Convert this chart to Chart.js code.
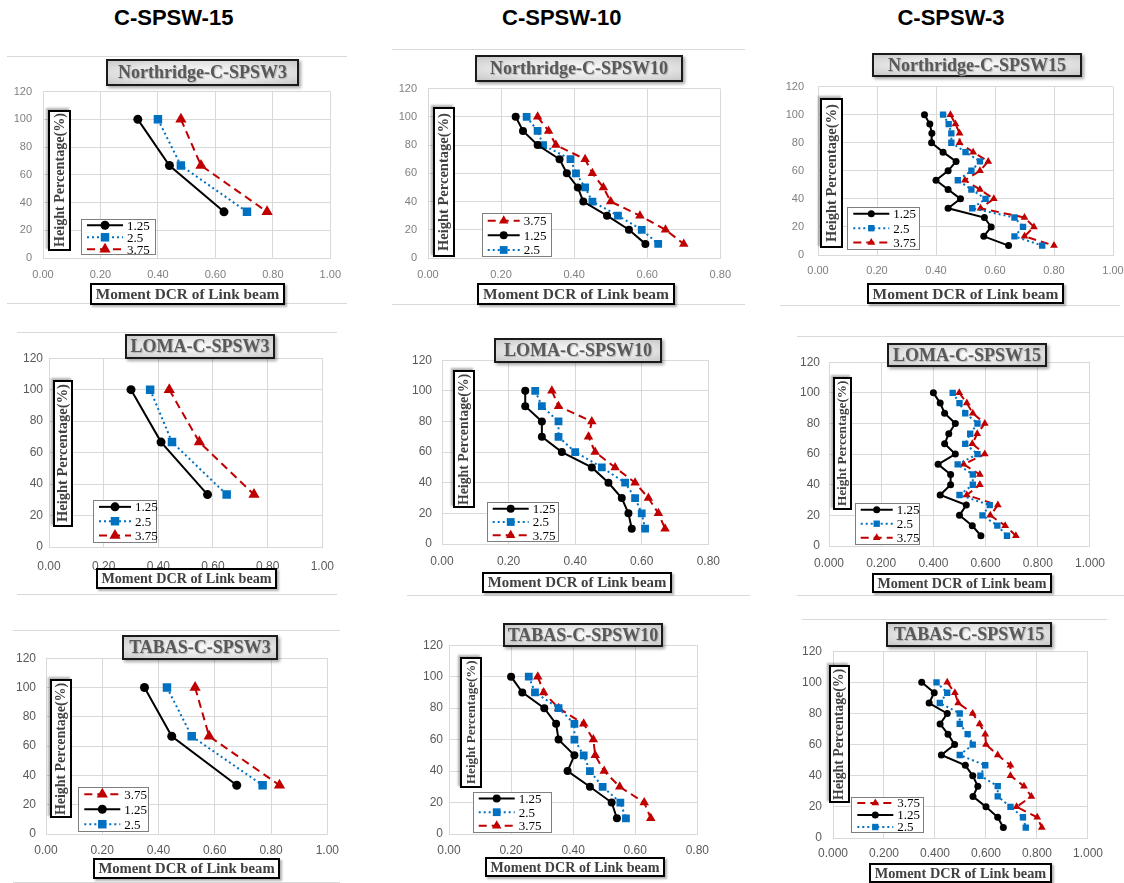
<!DOCTYPE html>
<html>
<head>
<meta charset="utf-8">
<script src="https://cdn.jsdelivr.net/npm/chart.js@4.4.1/dist/chart.umd.min.js"></script>
<style>
  body { margin: 0; background: #fff; }
  #page { position: relative; width: 1124px; height: 883px; overflow: hidden; background: #fff; }
  .abs { position: absolute; }
  .hdr { font: bold 22px 'Liberation Sans', Arial, sans-serif; color: #000; transform: translateX(-50%); white-space: nowrap; }
  .ttl { box-sizing: border-box; border: 2px solid #1a1a1a; box-shadow: 2px 2px 3px rgba(0,0,0,0.35);
         background: radial-gradient(ellipse at center, #fafafa 0%, #e4e4e4 60%, #c8c8c8 100%);
         font: bold 18px 'Liberation Serif', 'Times New Roman', serif; color: #595959;
         text-shadow: 1px 1px 1px #b0b0b0; display: flex; align-items: center; justify-content: center; white-space: nowrap; }
  .axt { box-sizing: border-box; border: 2px solid #000; background: #fff; box-shadow: 2px 2px 2px rgba(0,0,0,0.3);
         font-family: 'Liberation Serif', 'Times New Roman', serif; font-weight: bold; color: #404040;
         display: flex; align-items: center; justify-content: center; white-space: nowrap; overflow: hidden; }
  .yt { writing-mode: vertical-rl; transform: rotate(180deg); }
  .frm { height: 1px; background: #d9d9d9; }
</style>
</head>
<body>
<div id="page"></div>
<script>
// ---- data ----
const columnHeaders = ['C-SPSW-15', 'C-SPSW-10', 'C-SPSW-3'];
const seriesLabels = ['1.25', '2.5', '3.75'];

const heights3 = [100, 66.7, 33.3];
const heights10 = [100, 90, 80, 70, 60, 50, 40, 30, 20, 10];
const heights15 = [100, 93.3, 86.7, 80, 73.3, 66.7, 60, 53.3, 46.7, 40, 33.3, 26.7, 20, 13.3, 6.7];

const yTicks = ['0', '20', '40', '60', '80', '100', '120'];
const xTicks100 = ['0.00', '0.20', '0.40', '0.60', '0.80', '1.00'];
const xTicks080 = ['0.00', '0.20', '0.40', '0.60', '0.80'];
const xTicks1000 = ['0.000', '0.200', '0.400', '0.600', '0.800', '1.000'];

// Northridge
const nr3_125 = [0.33, 0.44, 0.63];
const nr3_250 = [0.40, 0.48, 0.71];
const nr3_375 = [0.48, 0.55, 0.78];

const nr10_125 = [0.24, 0.26, 0.30, 0.36, 0.38, 0.41, 0.425, 0.49, 0.55, 0.595];
const nr10_250 = [0.27, 0.30, 0.315, 0.39, 0.405, 0.43, 0.45, 0.52, 0.585, 0.63];
const nr10_375 = [0.30, 0.33, 0.35, 0.43, 0.45, 0.48, 0.50, 0.58, 0.65, 0.70];

const nr15_125 = [0.361, 0.379, 0.386, 0.385, 0.424, 0.468, 0.441, 0.40, 0.441, 0.483, 0.441, 0.564, 0.587, 0.562, 0.646];
const nr15_250 = [0.424, 0.443, 0.452, 0.452, 0.50, 0.549, 0.52, 0.474, 0.52, 0.568, 0.523, 0.666, 0.695, 0.666, 0.76];
const nr15_375 = [0.449, 0.466, 0.48, 0.48, 0.526, 0.577, 0.549, 0.498, 0.549, 0.596, 0.551, 0.70, 0.732, 0.70, 0.80];

// Loma
const loma3_125 = [0.30, 0.41, 0.58];
const loma3_250 = [0.37, 0.45, 0.65];
const loma3_375 = [0.44, 0.55, 0.75];

const loma10_125 = [0.25, 0.25, 0.30, 0.30, 0.36, 0.45, 0.50, 0.54, 0.56, 0.57];
const loma10_250 = [0.28, 0.30, 0.35, 0.35, 0.40, 0.48, 0.55, 0.58, 0.60, 0.61];
const loma10_375 = [0.33, 0.35, 0.45, 0.44, 0.46, 0.52, 0.58, 0.62, 0.65, 0.67];

const loma15_125 = [0.40, 0.426, 0.443, 0.484, 0.459, 0.443, 0.484, 0.418, 0.466, 0.466, 0.426, 0.526, 0.50, 0.549, 0.582];
const loma15_250 = [0.474, 0.50, 0.522, 0.569, 0.541, 0.522, 0.569, 0.493, 0.551, 0.551, 0.50, 0.616, 0.588, 0.645, 0.682];
const loma15_375 = [0.499, 0.528, 0.551, 0.597, 0.568, 0.549, 0.597, 0.516, 0.578, 0.578, 0.528, 0.647, 0.618, 0.675, 0.716];

// Tabas
const tabas3_125 = [0.35, 0.447, 0.678];
const tabas3_250 = [0.43, 0.518, 0.77];
const tabas3_375 = [0.53, 0.58, 0.83];

const tabas10_125 = [0.20, 0.236, 0.307, 0.345, 0.353, 0.404, 0.382, 0.454, 0.524, 0.541];
const tabas10_250 = [0.257, 0.277, 0.353, 0.404, 0.404, 0.434, 0.454, 0.495, 0.552, 0.57];
const tabas10_375 = [0.286, 0.305, 0.353, 0.434, 0.465, 0.471, 0.50, 0.55, 0.629, 0.65];

const tabas15_125 = [0.348, 0.397, 0.377, 0.448, 0.42, 0.451, 0.477, 0.425, 0.519, 0.548, 0.568, 0.549, 0.60, 0.646, 0.668];
const tabas15_250 = [0.406, 0.448, 0.419, 0.497, 0.497, 0.528, 0.548, 0.497, 0.597, 0.578, 0.646, 0.646, 0.696, 0.745, 0.756];
const tabas15_375 = [0.448, 0.478, 0.491, 0.548, 0.575, 0.597, 0.60, 0.646, 0.696, 0.696, 0.749, 0.778, 0.72, 0.801, 0.819];

// ---- styles ----
const seriesStyles = [
  { color: '#000000', dash: [], point: 'circle' },
  { color: '#0070C0', dash: [2, 3], point: 'rect' },
  { color: '#C00000', dash: [8, 5], point: 'triangle' }
];
const markerBig = [4.5, 6, 6.5];
const markerMid = [4, 5.5, 5.5];
const markerSmall = [3.5, 4.5, 4.5];

// ---- layout of each panel (page coordinates) ----
const panels = [
  { title: 'Northridge-C-SPSW3', h: heights3, s: [nr3_125, nr3_250, nr3_375], xMax: 1, xt: xTicks100, mk: markerBig,
    plot: { l: 43, t: 85.7, r: 331, b: 258 }, tb: [106, 59, 193, 27], xb: [90, 283, 195, 22], yb: [48, 110, 23, 141],
    lg: [81, 219, 75, 36], order: [0, 1, 2], yPad: 11, xPad: 10, fs: 11, tc: '#7f7f7f', frames: [[7, 347, 55.7], [7, 347, 303]] },
  { title: 'Northridge-C-SPSW10', h: heights10, s: [nr10_125, nr10_250, nr10_375], xMax: 0.8, xt: xTicks080, mk: markerMid,
    plot: { l: 428.3, t: 82.7, r: 721.7, b: 257.3 }, tb: [475, 55, 208, 27], xb: [477, 283, 198, 22], yb: [433, 107, 22, 150],
    lg: [482, 213, 70, 44], order: [2, 0, 1], yPad: 11, xPad: 10, fs: 11, tc: '#7f7f7f', frames: [[392, 745, 49], [392, 745, 304]] },
  { title: 'Northridge-C-SPSW15', h: heights15, s: [nr15_125, nr15_250, nr15_375], xMax: 1, xt: xTicks100, mk: markerSmall,
    plot: { l: 817.7, t: 78.3, r: 1112.3, b: 255 }, tb: [872, 53, 210, 24], xb: [867, 283, 197, 21], yb: [820, 98, 23, 150],
    lg: [847, 207, 73, 43], order: [0, 1, 2], yPad: 14, xPad: 9, fs: 11, tc: '#7f7f7f', frames: [[780, 1120, 305]] },
  { title: 'LOMA-C-SPSW3', h: heights3, s: [loma3_125, loma3_250, loma3_375], xMax: 1, xt: xTicks100, mk: markerBig,
    plot: { l: 49, t: 357.3, r: 325.7, b: 547.3 }, tb: [125, 334, 150, 25], xb: [96, 568, 181, 21], yb: [53, 380, 20, 147],
    lg: [93, 500, 64, 43], order: [0, 1, 2], yPad: 6, xPad: 12, fs: 12, tc: '#595959', frames: [[17, 337, 331.7], [17, 337, 594]] },
  { title: 'LOMA-C-SPSW10', h: heights10, s: [loma10_125, loma10_250, loma10_375], xMax: 0.8, xt: xTicks080, mk: markerMid,
    plot: { l: 442.3, t: 355, r: 710, b: 544 }, tb: [494, 338, 168, 25], xb: [482, 572, 190, 21], yb: [453, 370, 22, 138],
    lg: [487, 502, 72, 40], order: [0, 1, 2], yPad: 10, xPad: 10, fs: 12, tc: '#595959', frames: [[407, 750, 595]] },
  { title: 'LOMA-C-SPSW15', h: heights15, s: [loma15_125, loma15_250, loma15_375], xMax: 1, xt: xTicks1000, mk: markerSmall,
    plot: { l: 829.3, t: 358.3, r: 1095.7, b: 546.7 }, tb: [887, 343, 160, 24], xb: [872, 573, 180, 20], yb: [833, 377, 19, 133],
    lg: [855, 503, 65, 42], order: [0, 1, 2], yPad: 9, xPad: 10, fs: 12, tc: '#595959', frames: [[797, 1124, 336], [797, 1124, 595]] },
  { title: 'TABAS-C-SPSW3', h: heights3, s: [tabas3_125, tabas3_250, tabas3_375], xMax: 1, xt: xTicks100, mk: markerBig,
    plot: { l: 45.7, t: 653.3, r: 327.3, b: 834 }, tb: [122, 635, 156, 25], xb: [93, 858, 187, 21], yb: [50, 679, 22, 139],
    lg: [78, 787, 71, 45], order: [2, 0, 1], yPad: 10, xPad: 9, fs: 12, tc: '#595959', frames: [[13, 340, 630], [13, 340, 882]] },
  { title: 'TABAS-C-SPSW10', h: heights10, s: [tabas10_125, tabas10_250, tabas10_375], xMax: 0.8, xt: xTicks080, mk: markerMid,
    plot: { l: 449.3, t: 644.3, r: 698.3, b: 834.3 }, tb: [503, 623, 160, 24], xb: [485, 857, 180, 20], yb: [460, 657, 22, 131],
    lg: [473, 792, 79, 41], order: [0, 1, 2], yPad: 6, xPad: 9, fs: 12, tc: '#595959', frames: [] },
  { title: 'TABAS-C-SPSW15', h: heights15, s: [tabas15_125, tabas15_250, tabas15_375], xMax: 1, xt: xTicks1000, mk: markerSmall,
    plot: { l: 832.7, t: 645, r: 1090.7, b: 838.3 }, tb: [886, 622, 166, 25], xb: [869, 863, 183, 20], yb: [829, 665, 21, 138],
    lg: [851, 797, 73, 36], order: [2, 0, 1], yPad: 11, xPad: 8, fs: 12, tc: '#595959', frames: [[802, 1107, 619]] }
];

const headerCenters = [[173.7, 17.5], [561.7, 17.5], [951, 17.5]];

const page = document.getElementById('page');

function addDiv(cls, x, y, w, h, text) {
  const d = document.createElement('div');
  d.className = 'abs ' + cls;
  d.style.left = x + 'px';
  d.style.top = y + 'px';
  if (w != null) d.style.width = w + 'px';
  if (h != null) d.style.height = h + 'px';
  if (text != null) d.textContent = text;
  page.appendChild(d);
  return d;
}

function drawMarker(ctx, style, x, y, r, color) {
  ctx.fillStyle = color;
  ctx.beginPath();
  if (style === 'circle') {
    ctx.arc(x, y, r, 0, Math.PI * 2);
  } else if (style === 'rect') {
    const s = r * Math.SQRT1_2;
    ctx.rect(x - s, y - s, 2 * s, 2 * s);
  } else {
    ctx.moveTo(x, y - r);
    ctx.lineTo(x + r * 0.866, y + r * 0.5);
    ctx.lineTo(x - r * 0.866, y + r * 0.5);
    ctx.closePath();
  }
  ctx.fill();
}

// legend drawn inside the plot, in a small box
const boxLegend = {
  id: 'boxLegend',
  afterDraw(chart, args, opts) {
    const ctx = chart.ctx;
    const L = opts.box;
    ctx.save();
    ctx.fillStyle = '#ffffff';
    ctx.fillRect(L.x, L.y, L.w, L.h);
    ctx.strokeStyle = '#7f7f7f';
    ctx.lineWidth = 1;
    ctx.strokeRect(Math.round(L.x) + 0.5, Math.round(L.y) + 0.5, L.w - 1, L.h - 1);
    const rowH = L.h / 3;
    opts.order.forEach(function (di, i) {
      const ds = chart.data.datasets[di];
      const cy = L.y + rowH * (i + 0.5);
      const x0 = L.x + 6, x1 = L.x + 6 + opts.sample;
      ctx.setLineDash(ds.borderDash);
      ctx.strokeStyle = ds.borderColor;
      ctx.lineWidth = 2;
      ctx.beginPath();
      ctx.moveTo(x0, cy);
      ctx.lineTo(x1, cy);
      ctx.stroke();
      ctx.setLineDash([]);
      drawMarker(ctx, ds.pointStyle, (x0 + x1) / 2, cy, ds.pointRadius, ds.borderColor);
      ctx.fillStyle = '#000';
      ctx.font = '13px "Liberation Serif", "Times New Roman", serif';
      ctx.textBaseline = 'middle';
      ctx.fillText(ds.label, x1 + 4, cy + 1);
    });
    ctx.restore();
  }
};

// column headers
columnHeaders.forEach(function (t, i) {
  addDiv('hdr', headerCenters[i][0], headerCenters[i][1] - 13, null, null, t);
});

const Y_AXIS_W = 45, X_AXIS_H = 28, PAD_T = 12, PAD_R = 20;

panels.forEach(function (p) {
  p.frames.forEach(function (f) { addDiv('frm', f[0], f[2], f[1] - f[0], 1); });

  const cl = p.plot.l - Y_AXIS_W, ct = p.plot.t - PAD_T;
  const cw = Math.round(p.plot.r - p.plot.l + Y_AXIS_W + PAD_R);
  const ch = Math.round(p.plot.b - p.plot.t + PAD_T + X_AXIS_H);
  const cv = document.createElement('canvas');
  cv.width = cw; cv.height = ch;
  cv.className = 'abs';
  cv.style.left = cl + 'px'; cv.style.top = ct + 'px';
  cv.style.width = cw + 'px'; cv.style.height = ch + 'px';
  page.appendChild(cv);

  const datasets = p.s.map(function (vals, k) {
    const st = seriesStyles[k];
    return {
      label: seriesLabels[k],
      data: p.h.map(function (hh, i) { return { x: vals[i], y: hh }; }),
      showLine: true,
      borderColor: st.color,
      backgroundColor: st.color,
      pointBackgroundColor: st.color,
      pointBorderColor: st.color,
      borderWidth: 2,
      borderDash: st.dash,
      pointStyle: st.point,
      pointRadius: p.mk[k],
      pointBorderWidth: 0,
      tension: 0
    };
  });

  const tickFont = { family: '"Liberation Sans", Arial, sans-serif', size: p.fs };

  new Chart(cv, {
    type: 'scatter',
    data: { datasets: datasets },
    options: {
      responsive: false,
      animation: false,
      devicePixelRatio: 1,
      layout: { padding: { top: PAD_T, right: PAD_R, left: 0, bottom: 0 } },
      plugins: {
        legend: { display: false },
        tooltip: { enabled: false },
        boxLegend: {
          box: { x: p.lg[0] - cl, y: p.lg[1] - ct, w: p.lg[2], h: p.lg[3] },
          order: p.order,
          sample: p.lg[2] > 70 ? 36 : 32
        }
      },
      scales: {
        x: {
          type: 'linear', min: 0, max: p.xMax,
          ticks: { stepSize: 0.2, padding: p.xPad, color: p.tc, font: tickFont, maxRotation: 0,
                   callback: function (v, i) { return p.xt[i]; } },
          grid: { color: '#d9d9d9', drawTicks: false },
          border: { color: '#d9d9d9' },
          afterFit: function (s) { s.height = X_AXIS_H; }
        },
        y: {
          type: 'linear', min: 0, max: 120,
          ticks: { stepSize: 20, padding: p.yPad, color: p.tc, font: tickFont,
                   callback: function (v, i) { return yTicks[i]; } },
          grid: { color: '#d9d9d9', drawTicks: false },
          border: { color: '#d9d9d9' },
          afterFit: function (s) { s.width = Y_AXIS_W; }
        }
      }
    },
    plugins: [boxLegend]
  });

  addDiv('ttl', p.tb[0], p.tb[1], p.tb[2], p.tb[3], p.title);
  const xd = addDiv('axt', p.xb[0], p.xb[1], p.xb[2], p.xb[3], 'Moment DCR of Link beam');
  xd.style.fontSize = Math.min(15.5, (p.xb[2] - 8) / 12.2).toFixed(1) + 'px';
  const yd = addDiv('axt yt', p.yb[0], p.yb[1], p.yb[2], p.yb[3], 'Height Percentage(%)');
  yd.style.fontSize = Math.min(14.5, (p.yb[3] - 6) / 9.6).toFixed(1) + 'px';
});
</script>
</body>
</html>
